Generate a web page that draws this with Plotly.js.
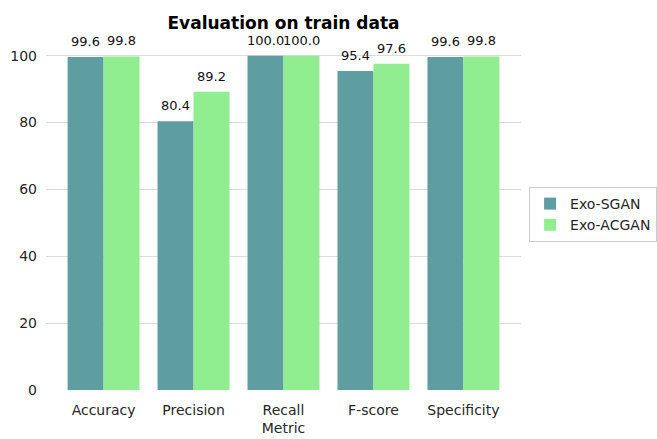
<!DOCTYPE html>
<html>
<head>
<meta charset="utf-8">
<script src="https://cdn.plot.ly/plotly-3.0.1.min.js"></script>
<style>html,body{margin:0;padding:0;background:#fff;}#chart{width:657px;height:439px;}</style>
</head>
<body>
<div id="chart"></div>
<script>
const metrics = ["Accuracy", "Precision", "Recall", "F-score", "Specificity"];
const sganValues = [99.6, 80.4, 100.0, 95.4, 99.6];
const acganValues = [99.8, 89.2, 100.0, 97.6, 99.8];
const seriesNames = ["Exo-SGAN", "Exo-ACGAN"];
const yTicks = [0, 20, 40, 60, 80, 100];

const font = {family: "DejaVu Sans", size: 14, color: "#262626"};
const barWidth = 0.4;

const traces = [
  {type: "bar", name: seriesNames[0], x: metrics, y: sganValues, marker: {color: "#5F9EA0"}},
  {type: "bar", name: seriesNames[1], x: metrics, y: acganValues, marker: {color: "#90EE90"}}
];

const annotations = [];
[sganValues, acganValues].forEach((vals, s) => {
  vals.forEach((v, i) => {
    annotations.push({
      x: i + (s === 0 ? -barWidth / 2 : barWidth / 2), y: v, xref: "x", yref: "y",
      text: v.toFixed(1), showarrow: false, yanchor: "bottom", yshift: 6,
      font: {family: "DejaVu Sans", size: 13, color: "#111"}
    });
  });
});

const layout = {
  width: 657, height: 439,
  margin: {l: 46, r: 136, t: 39, b: 49, autoexpand: false},
  paper_bgcolor: "#fff", plot_bgcolor: "#fff",
  font: font,
  title: {text: "<b>Evaluation on train data</b>", font: {family: "DejaVu Sans", size: 17, color: "#000"},
          xref: "paper", x: 0.5, xanchor: "center", y: 0.948, yanchor: "middle"},
  barmode: "group", bargap: 0.2, bargroupgap: 0,
  annotations: annotations,
  xaxis: {range: [-0.64, 4.64], showline: false, ticks: "", showgrid: false, zeroline: false,
          tickfont: font, ticklabelstandoff: 10, title: {text: "Metric", font: font, standoff: 6}},
  yaxis: {range: [0, 105], tickvals: yTicks, ticktext: yTicks.map(String), showline: false, ticks: "",
          gridcolor: "#dddddd", gridwidth: 1, zeroline: false, tickfont: font, ticklabelstandoff: 8},
  legend: {x: 1.017, xanchor: "left", y: 0.5, yanchor: "middle", bordercolor: "#cccccc", borderwidth: 1,
           font: font, bgcolor: "#fff", tracegroupgap: 0},
  showlegend: true
};

Plotly.newPlot("chart", traces, layout, {displayModeBar: false, staticPlot: true});
</script>
</body>
</html>
